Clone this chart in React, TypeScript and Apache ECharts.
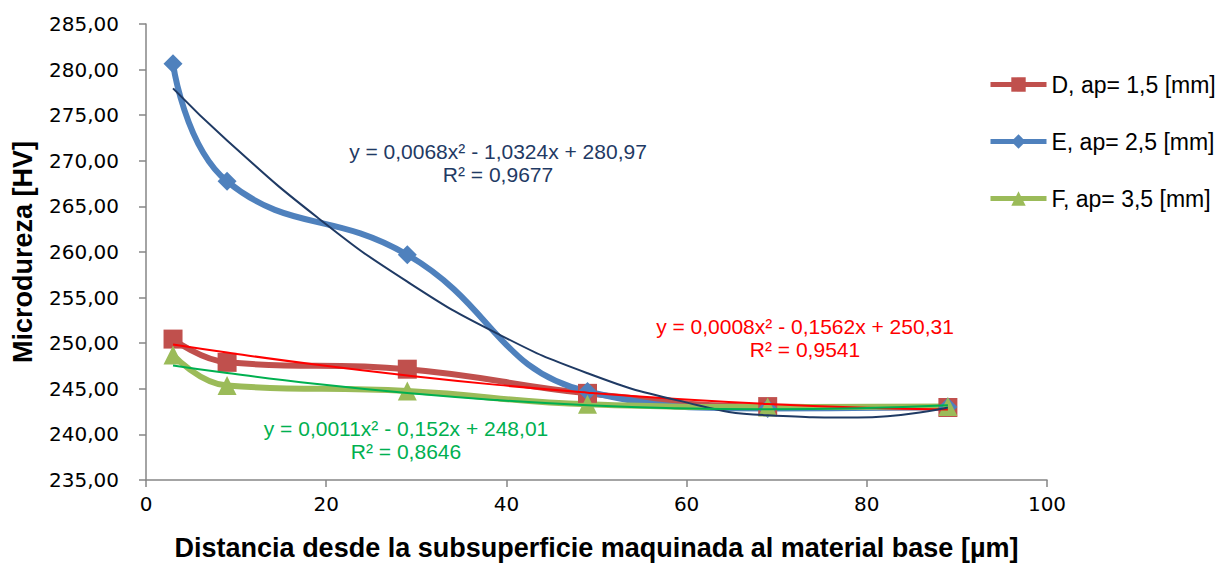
import React, { useEffect, useRef } from "react";
import * as echarts from "echarts";

const xDist = [3, 9, 29, 49, 69, 89];
const seriesD = [250.45, 247.9, 247.15, 244.5, 243.05, 242.95];
const seriesE = [280.65, 267.75, 259.7, 244.7, 242.85, 243.0];
const seriesF = [248.7, 245.35, 244.75, 243.3, 243.0, 243.05];

const trendX = [3, 9, 19, 29, 39, 49, 59, 69, 79, 89];
const trendD = [249.85, 248.97, 247.63, 246.45, 245.43, 244.58, 243.88, 243.34, 242.96, 242.74];
const trendE = [277.94, 272.23, 263.81, 256.75, 251.05, 246.71, 243.73, 242.1, 241.85, 242.95];
const trendF = [247.56, 246.73, 245.52, 244.53, 243.76, 243.2, 242.87, 242.76, 242.87, 243.2];

const names = ["D, ap= 1,5 [mm]", "E, ap= 2,5 [mm]", "F, ap= 3,5 [mm]"];
const eqE = ["y = 0,0068x² - 1,0324x + 280,97", "R² = 0,9677"];
const eqD = ["y = 0,0008x² - 0,1562x + 250,31", "R² = 0,9541"];
const eqF = ["y = 0,0011x² - 0,152x + 248,01", "R² = 0,8646"];

const colD = "#C0504D";
const colE = "#4F81BD";
const colF = "#9BBB59";
const trD = "#FF0000";
const trE = "#1F3A64";
const trF = "#00B050";

const pair = (xs: number[], ys: number[]) => xs.map((x, i) => [x, ys[i]]);

export default function App() {
  const ref = useRef<HTMLDivElement>(null);
  useEffect(() => {
    const chart = echarts.init(ref.current!, null, { renderer: "svg" });
    const mainSeries = (name: string, data: number[], color: string, symbol: string, size: number) => ({
      name,
      type: "line",
      data: pair(xDist, data),
      smooth: 0.45,
      symbol,
      symbolSize: size,
      lineStyle: { color, width: 6 },
      itemStyle: { color },
      z: 2,
    });
    const trend = (data: number[], color: string) => ({
      type: "line",
      data: pair(trendX, data),
      smooth: 0.5,
      symbol: "none",
      lineStyle: { color, width: 2 },
      z: 5,
      silent: true,
    });
    const eqText = (lines: string[], x: number, y: number, color: string) => ({
      type: "text",
      x,
      y,
      style: {
        text: lines.join("\n"),
        fill: color,
        font: "21px 'Liberation Sans', Arial, sans-serif",
        textAlign: "center",
        textVerticalAlign: "top",
        lineHeight: 23,
      },
    });
    chart.setOption({
      animation: false,
      backgroundColor: "#fff",
      grid: { left: 146, right: 177, top: 24, bottom: 82, containLabel: false },
      xAxis: {
        type: "value",
        min: 0,
        max: 100,
        interval: 20,
        name: "Distancia desde la subsuperficie maquinada al material base [µm]",
        nameLocation: "middle",
        nameGap: 54,
        nameTextStyle: { fontFamily: "'Liberation Sans', Arial", fontWeight: "bold", fontSize: 27, color: "#000" },
        axisLine: { lineStyle: { color: "#868686", width: 1.5 } },
        axisTick: { show: true, length: 7, lineStyle: { color: "#868686", width: 1.5 } },
        axisLabel: { fontFamily: "'DejaVu Sans', Verdana", fontSize: 20, color: "#000", margin: 14 },
        splitLine: { show: false },
      },
      yAxis: {
        type: "value",
        min: 235,
        max: 285,
        interval: 5,
        name: "Microdureza [HV]",
        nameLocation: "middle",
        nameGap: 110,
        nameTextStyle: { fontFamily: "'Liberation Sans', Arial", fontWeight: "bold", fontSize: 27, color: "#000" },
        axisLine: { show: true, lineStyle: { color: "#868686", width: 1.5 } },
        axisTick: { show: true, length: 7, lineStyle: { color: "#868686", width: 1.5 } },
        axisLabel: {
          fontFamily: "'DejaVu Sans', Verdana",
          fontSize: 20,
          color: "#000",
          margin: 27,
          formatter: (v: number) => v.toFixed(2).replace(".", ","),
        },
        splitLine: { show: false },
      },
      legend: {
        data: names,
        orient: "vertical",
        left: 983,
        top: 68,
        itemWidth: 56,
        itemHeight: 18,
        itemGap: 34,
        lineStyle: { width: 5 },
        textStyle: { fontFamily: "'Liberation Sans', Arial", fontSize: 23, color: "#000" },
      },
      series: [
        mainSeries(names[0], seriesD, colD, "rect", 19),
        mainSeries(names[1], seriesE, colE, "diamond", 19),
        mainSeries(names[2], seriesF, colF, "triangle", 19),
        trend(trendD, trD),
        trend(trendE, trE),
        trend(trendF, trF),
      ],
      graphic: [
        eqText(eqE, 498, 140, trE),
        eqText(eqD, 805, 315, trD),
        eqText(eqF, 406, 417, trF),
      ],
    });
    return () => chart.dispose();
  }, []);
  return <div ref={ref} style={{ width: 1224, height: 566, position: "absolute", left: 0, top: 0 }} />;
}
